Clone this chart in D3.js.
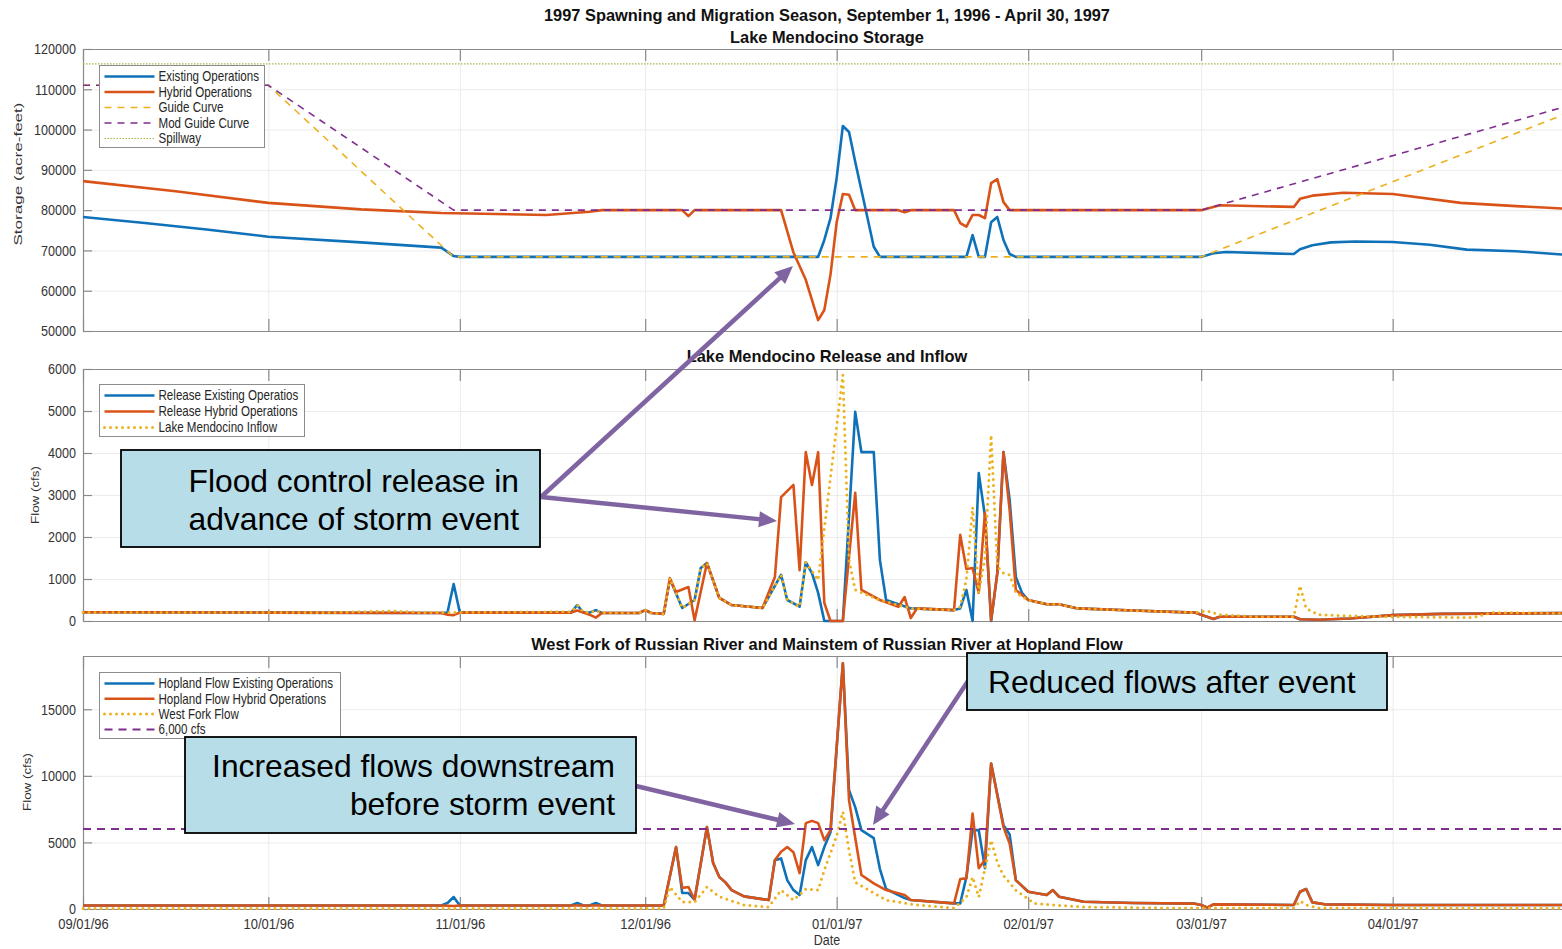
<!DOCTYPE html>
<html><head><meta charset="utf-8">
<script src="https://cdn.jsdelivr.net/npm/d3@7"></script>
<style>
body{margin:0;background:#fff;}
svg{display:block;font-family:"Liberation Sans",Arial,Helvetica,sans-serif;}
</style>
</head><body>
<svg id="chart" width="1562" height="949"></svg>
<script>
// ---------------- DATA ----------------
const startDate = "1996-09-01";
const endDate = "1997-05-01";
const monthTicks = ["1996-09-01","1996-10-01","1996-11-01","1996-12-01","1997-01-01","1997-02-01","1997-03-01","1997-04-01"];
const monthTickLabels = ["09/01/96","10/01/96","11/01/96","12/01/96","01/01/97","02/01/97","03/01/97","04/01/97"];

const storageTicks = [50000,60000,70000,80000,90000,100000,110000,120000];
const releaseTicks = [0,1000,2000,3000,4000,5000,6000];
const hoplandTicks = [0,5000,10000,15000];

// [day since 1996-09-01, acre-feet]
const storageExisting = [[0,78300],[10,76800],[20,75200],[30,73400],[45,72000],[58,70700],[60,68600],[61,68400],[119,68400],[120,72600],[121,78000],[122,88000],[123,100900],[124,99400],[125,92000],[126,85000],[127,78000],[128,70900],[129,68400],[143,68400],[144,73800],[145,68400],[146,68400],[147,77000],[148,78300],[149,72600],[150,69100],[151,68400],[181,68400],[183,69300],[185,69600],[196,69100],[197,70300],[199,71300],[202,72000],[206,72200],[212,72100],[218,71400],[224,70200],[232,69800],[242,68700]];
const storageHybrid = [[0,87200],[15,84700],[30,81800],[45,80200],[58,79300],[75,78800],[82,79600],[84,80000],[97,80000],[98,78500],[99,80000],[113,80000],[115,69500],[117,62700],[119,52700],[120,55200],[121,64000],[122,77000],[123,84000],[124,83800],[125,80000],[132,80000],[133,79500],[134,80000],[141,80000],[142,76800],[143,75900],[144,78800],[145,78800],[146,78000],[147,86700],[148,87700],[149,82000],[150,80000],[181,80000],[184,81200],[196,80800],[197,82800],[199,83600],[204,84300],[212,84000],[223,81800],[232,81000],[242,80200]];
const guideCurve = [[0,111000],[30,111000],[60,68400],[181,68400],[242,105100]];
const modGuideCurve = [[0,111000],[30,111000],[60,80000],[181,80000],[242,106600]];
const spillway = [[0,116300],[242,116300]];

// [day, cfs]
const releaseExisting = [[0,210],[30,200],[58,190],[59,200],[60,880],[61,200],[79,200],[80,380],[81,200],[82,200],[83,260],[84,190],[90,190],[91,260],[92,190],[94,170],[95,1000],[97,310],[99,500],[100,1260],[101,1380],[103,550],[105,380],[110,310],[113,1100],[114,500],[116,340],[117,1400],[118,1140],[119,670],[120,0],[123,0],[125,4980],[126,4020],[128,4020],[129,1450],[130,500],[134,300],[141,260],[142,300],[143,740],[144,0],[145,3520],[146,2500],[147,0],[148,1140],[149,4020],[150,2880],[151,1050],[152,670],[153,500],[156,400],[158,400],[161,300],[170,250],[180,200],[181,150],[183,50],[184,100],[196,100],[197,40],[200,30],[205,60],[212,140],[220,170],[242,190]];
const releaseHybrid = [[0,210],[30,200],[58,190],[59,150],[60,140],[61,200],[79,200],[80,250],[81,200],[82,150],[83,80],[84,190],[90,190],[91,260],[92,190],[94,170],[95,1020],[96,690],[98,810],[99,20],[101,1380],[103,550],[105,380],[110,310],[112,1050],[113,2950],[115,3240],[116,1210],[117,4020],[118,3240],[119,4020],[120,430],[121,0],[123,0],[125,3050],[126,740],[129,500],[132,340],[133,570],[134,70],[135,300],[141,260],[142,2050],[143,1240],[144,1260],[145,670],[146,2570],[147,20],[148,1140],[149,4020],[150,2640],[151,740],[153,500],[156,400],[158,400],[161,300],[170,250],[180,200],[181,150],[183,50],[184,100],[196,100],[197,40],[200,30],[205,60],[212,140],[220,170],[242,190]];
const lakeInflow = [[0,200],[40,200],[50,240],[55,200],[79,220],[80,380],[81,220],[82,200],[83,250],[84,200],[90,190],[91,260],[92,190],[94,170],[95,1020],[97,310],[99,500],[100,1260],[101,1380],[103,550],[105,380],[110,310],[113,1100],[114,500],[116,340],[117,1400],[119,980],[123,5860],[124,1450],[125,740],[129,500],[134,300],[141,260],[142,340],[143,1000],[144,2710],[145,670],[146,1500],[147,4430],[148,1300],[149,1140],[150,1100],[151,670],[153,500],[156,400],[158,400],[161,300],[170,250],[180,200],[182,240],[184,150],[190,100],[196,100],[197,840],[198,300],[200,150],[205,120],[212,100],[225,80],[228,200],[242,180]];

const hoplandExisting = [[0,260],[58,260],[59,450],[60,900],[61,260],[79,260],[80,450],[81,260],[82,260],[83,450],[84,260],[94,260],[96,4650],[97,1200],[98,1200],[99,700],[101,6150],[102,3450],[103,2400],[104,2000],[105,1420],[107,950],[111,670],[112,3670],[113,3800],[114,2170],[115,1420],[116,1050],[117,3670],[118,4650],[119,3300],[120,4650],[121,5770],[123,18450],[124,8920],[125,7650],[126,5920],[128,5320],[129,3000],[130,1500],[133,820],[134,670],[141,420],[142,420],[143,2400],[144,5920],[145,5920],[146,3070],[147,10920],[149,6300],[150,5600],[151,2170],[153,1300],[156,1050],[157,1420],[158,920],[162,550],[170,450],[180,400],[181,300],[182,100],[183,350],[196,300],[197,1300],[198,1500],[199,500],[201,350],[212,300],[242,300]];
const hoplandHybrid = [[0,260],[58,260],[60,220],[61,260],[94,260],[96,4650],[97,1580],[98,1650],[99,700],[101,6150],[102,3450],[103,2400],[104,2000],[105,1420],[107,950],[111,670],[112,3670],[113,4300],[114,4650],[115,4270],[116,2700],[117,6450],[118,6620],[119,6450],[120,5170],[121,5920],[123,18450],[124,8170],[126,2550],[128,1920],[130,1420],[133,1050],[134,670],[141,420],[142,2250],[143,2300],[144,7170],[145,3070],[146,3670],[147,10920],[149,6150],[150,4920],[151,2170],[153,1300],[156,1050],[157,1420],[158,920],[162,550],[170,450],[180,400],[181,300],[182,100],[183,350],[196,300],[197,1300],[198,1500],[199,500],[201,350],[212,300],[242,300]];
const westFork = [[0,40],[94,40],[95,1650],[97,520],[99,520],[101,1650],[103,920],[107,300],[111,150],[113,1420],[115,670],[117,1500],[119,1420],[120,2920],[122,5500],[123,7300],[124,4400],[125,2000],[128,1200],[130,670],[135,300],[141,75],[143,900],[144,2400],[145,900],[147,5170],[148,3500],[149,2500],[151,1420],[154,420],[157,300],[162,150],[175,80],[196,80],[197,600],[198,300],[200,80],[242,50]];
const floodLevel = [[0,6000],[242,6000]];

// ---------------- CHART ----------------
const W = 1562, H = 949, SY = 1.2;
const C = {blue:"#0f72b9", orange:"#d95319", yellow:"#edb120", purple:"#7e2f8e", olive:"#a9b24a"};
const svg = d3.select("#chart");
const parse = d3.utcParse("%Y-%m-%d");
const t0 = parse(startDate);
const monthDates = monthTicks.map(parse);
const x = d3.scaleUtc().domain([t0, parse(endDate)]).range([83, 1578]);
const xd = d => x(d3.utcDay.offset(t0, d[0]));

function stretch(sel, size, sy) {
  const s = sy || SY;
  sel.each(function(){
    const t = d3.select(this);
    const tx = +t.attr("x") || 0, ty = +t.attr("y") || 0;
    t.attr("x", 0).attr("y", 0)
     .attr("transform", `translate(${tx},${ty}) scale(1,${s})`)
     .attr("font-size", size);
  });
}

function drawPanel(p) {
  const y = d3.scaleLinear().domain(p.domain).range([p.bottom, p.top]);
  const g = svg.append("g");
  // grid
  g.append("g").attr("transform","translate(83,0)")
    .call(d3.axisLeft(y).tickValues(p.ticks).tickSize(-(W-83)).tickFormat(""))
    .call(s => { s.select(".domain").remove(); s.selectAll("line").attr("stroke","#ebebeb"); });
  g.append("g").attr("transform",`translate(0,${p.bottom})`)
    .call(d3.axisBottom(x).tickValues(monthDates).tickSize(-(p.bottom-p.top)).tickFormat(""))
    .call(s => { s.select(".domain").remove(); s.selectAll("line").attr("stroke","#ebebeb"); });
  // frame + ticks
  const styleAx = s => { s.select(".domain").attr("stroke","#8a8a8a").attr("stroke-width",1.2);
                         s.selectAll(".tick line").attr("stroke","#8a8a8a").attr("stroke-width",1.2);
                         s.selectAll("text").attr("fill","#333").attr("font-family",null); };
  const yAx = g.append("g").attr("transform","translate(83,0)")
    .call(d3.axisLeft(y).tickValues(p.ticks).tickSizeInner(-9).tickSizeOuter(0).tickPadding(7).tickFormat(d3.format("d")))
    .call(styleAx);
  stretch(yAx.selectAll("text"), 12.6);
  const xAx = g.append("g").attr("transform",`translate(0,${p.bottom})`)
    .call(d3.axisBottom(x).tickValues(monthDates).tickSizeInner(-12).tickSizeOuter(0).tickPadding(10)
      .tickFormat(p.xLabels ? ((d,i) => monthTickLabels[i]) : ""))
    .call(styleAx);
  stretch(xAx.selectAll("text"), 13, 1.12);
  g.append("g").attr("transform",`translate(0,${p.top})`)
    .call(d3.axisTop(x).tickValues(monthDates).tickSizeInner(-12).tickSizeOuter(0).tickFormat(""))
    .call(styleAx);
  // series
  const line = d3.line().x(xd).y(d => y(d[1]));
  p.series.forEach(s => {
    g.append("path").datum(s.data).attr("d", line).attr("fill","none")
      .attr("stroke", s.color).attr("stroke-width", s.width)
      .attr("stroke-dasharray", s.dash || null)
      .attr("stroke-linecap", s.cap || "butt").attr("stroke-linejoin","round");
  });
  // titles
  p.titles.forEach(t => {
    g.append("text").attr("x", 827).attr("y", t.y).attr("text-anchor","middle")
      .attr("font-weight","bold").attr("font-size", 16.4).attr("fill","#111").text(t.text);
  });
  // y label
  g.append("text").attr("text-anchor","middle").attr("fill","#333")
    .attr("font-size", 11.5)
    .attr("transform", `translate(${p.ylab.x},${p.ylab.y}) rotate(-90)`)
    .attr("textLength", p.ylab.len).attr("lengthAdjust","spacingAndGlyphs")
    .text(p.ylab.text);
  // legend
  const L = p.legend;
  const lg = g.append("g");
  lg.append("rect").attr("x", L.x).attr("y", L.y).attr("width", L.w).attr("height", L.h)
    .attr("fill","#fff").attr("stroke","#8c8c8c").attr("stroke-width",1);
  L.items.forEach((it, i) => {
    const yy = L.y + 11 + i * L.step;
    lg.append("line").attr("x1", L.x + 5).attr("x2", L.x + 55).attr("y1", yy).attr("y2", yy)
      .attr("stroke", it.color).attr("stroke-width", it.width)
      .attr("stroke-dasharray", it.dash || null).attr("stroke-linecap", it.cap || "butt");
    const tx = lg.append("text").attr("x", L.x + 59).attr("y", yy).attr("dy","0.35em")
      .attr("fill","#262626").text(it.label);
    stretch(tx, 11.6);
  });
  return y;
}

const solid = (data, color) => ({data, color, width: 2.6});
const dotted = (data, color) => ({data, color, width: 3, dash: "0 6", cap: "round"});

// Panel 1: storage
drawPanel({
  top: 49, bottom: 331, domain: [50000, 120000], ticks: storageTicks, xLabels: false,
  titles: [{text:"1997 Spawning and Migration Season, September 1, 1996 - April 30, 1997", y: 21},
           {text:"Lake Mendocino Storage", y: 43}],
  ylab: {text:"Storage (acre-feet)", x: 22, y: 174, len: 143},
  series: [solid(storageExisting, C.blue), solid(storageHybrid, C.orange),
           {data: guideCurve, color: C.yellow, width: 1.6, dash: "7 6"},
           {data: modGuideCurve, color: C.purple, width: 1.6, dash: "7 6"},
           {data: spillway, color: C.olive, width: 1.2, dash: "1.5 1.5"}],
  legend: {x: 99.5, y: 65.5, w: 165, h: 82, step: 15.5, items: [
    {label:"Existing Operations", color:C.blue, width:2.6},
    {label:"Hybrid Operations", color:C.orange, width:2.6},
    {label:"Guide Curve", color:C.yellow, width:1.6, dash:"7 6"},
    {label:"Mod Guide Curve", color:C.purple, width:1.6, dash:"7 6"},
    {label:"Spillway", color:C.olive, width:1.2, dash:"1.5 1.5"}]}
});

// Panel 2: release & inflow
drawPanel({
  top: 369, bottom: 621, domain: [0, 6000], ticks: releaseTicks, xLabels: false,
  titles: [{text:"Lake Mendocino Release and Inflow", y: 362}],
  ylab: {text:"Flow (cfs)", x: 39, y: 495, len: 58},
  series: [solid(releaseExisting, C.blue), solid(releaseHybrid, C.orange), dotted(lakeInflow, C.yellow)],
  legend: {x: 99.5, y: 384.5, w: 205, h: 52, step: 16, items: [
    {label:"Release Existing Operatios", color:C.blue, width:2.6},
    {label:"Release Hybrid Operations", color:C.orange, width:2.6},
    {label:"Lake Mendocino Inflow", color:C.yellow, width:3, dash:"0 6", cap:"round"}]}
});

// Panel 3: Hopland
drawPanel({
  top: 656, bottom: 909, domain: [0, 19000], ticks: hoplandTicks, xLabels: true,
  titles: [{text:"West Fork of Russian River and Mainstem of Russian River at Hopland Flow", y: 650}],
  ylab: {text:"Flow (cfs)", x: 31, y: 782, len: 58},
  series: [solid(hoplandExisting, C.blue), solid(hoplandHybrid, C.orange), dotted(westFork, C.yellow),
           {data: floodLevel, color: C.purple, width: 2, dash: "8 6"}],
  legend: {x: 99.5, y: 672.5, w: 241, h: 66, step: 15.3, items: [
    {label:"Hopland Flow Existing Operations", color:C.blue, width:2.6},
    {label:"Hopland Flow Hybrid Operations", color:C.orange, width:2.6},
    {label:"West Fork Flow", color:C.yellow, width:3, dash:"0 6", cap:"round"},
    {label:"6,000 cfs", color:C.purple, width:2, dash:"8 6"}]}
});

const dateLab = svg.append("text").attr("x", 827).attr("y", 945).attr("text-anchor","middle").attr("fill","#333").text("Date");
stretch(dateLab, 12.5, 1.1);

// ---------------- ANNOTATIONS ----------------
const ann = svg.append("g");
const arrowColor = "#8064a2";
function arrow(x1, y1, x2, y2) {
  const dx = x2 - x1, dy = y2 - y1, len = Math.hypot(dx, dy), ux = dx/len, uy = dy/len;
  const hl = 18, hw = 8;
  const bx = x2 - ux*hl, by = y2 - uy*hl;
  ann.append("line").attr("x1", x1).attr("y1", y1).attr("x2", bx + ux*2).attr("y2", by + uy*2)
    .attr("stroke", arrowColor).attr("stroke-width", 4.5);
  ann.append("path").attr("d", `M${x2},${y2} L${bx - uy*hw},${by + ux*hw} L${bx + uy*hw},${by - ux*hw} Z`)
    .attr("fill", arrowColor);
}
arrow(541, 497, 793, 266);
arrow(541, 497, 777, 521);
arrow(636, 786, 795, 824);
arrow(968, 681, 873, 825);

function callout(x0, y0, w, h, lines, anchor, tx, baselines) {
  ann.append("rect").attr("x", x0).attr("y", y0).attr("width", w).attr("height", h)
    .attr("fill", "#b7dde8").attr("stroke", "#000").attr("stroke-width", 1.8);
  lines.forEach((t, i) => ann.append("text").attr("x", tx).attr("y", baselines[i])
    .attr("text-anchor", anchor).attr("font-size", 31.8).attr("fill", "#000").text(t));
}
callout(121, 450, 419, 97, ["Flood control release in", "advance of storm event"], "end", 519, [492, 530]);
callout(185, 737, 451, 96, ["Increased flows downstream", "before storm event"], "end", 615, [777, 815]);
callout(967, 653, 420, 57, ["Reduced flows after event"], "start", 988, [693]);
</script>
</body></html>
